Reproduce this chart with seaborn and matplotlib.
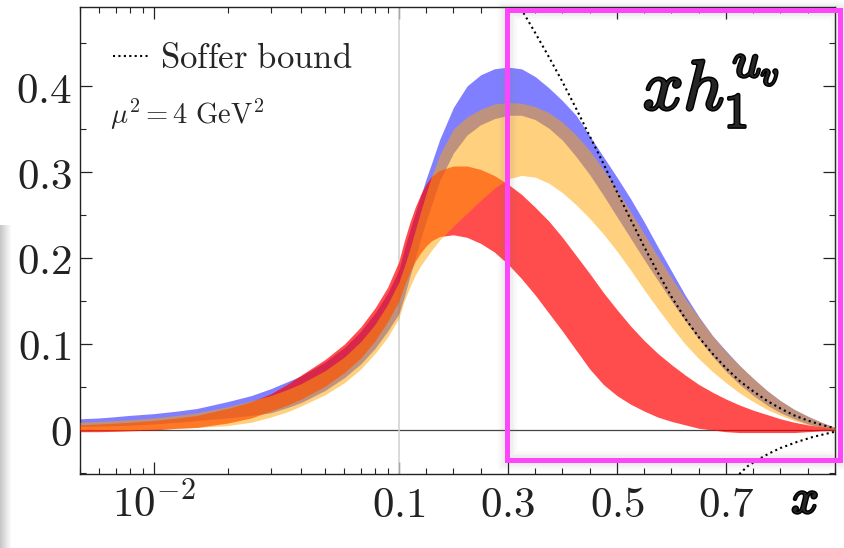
import numpy as np
import pandas as pd
import matplotlib
matplotlib.use("Agg")
import matplotlib.pyplot as plt
import seaborn as sns
from matplotlib import patheffects as pe
from matplotlib.patches import Rectangle
from matplotlib.ticker import FixedLocator

# ---------------------------------------------------------------- data
x_grid = [0.005, 0.006, 0.007, 0.008, 0.01, 0.0125, 0.015, 0.02, 0.025, 0.03,
          0.035, 0.04, 0.05, 0.06, 0.07, 0.08, 0.09,
          0.1, 0.11, 0.12, 0.13, 0.14, 0.15, 0.16, 0.175, 0.2, 0.225, 0.25, 0.275,
          0.3, 0.325, 0.35, 0.375, 0.4, 0.425, 0.45, 0.475, 0.5, 0.525, 0.55, 0.575,
          0.6, 0.625, 0.65, 0.675, 0.7, 0.725, 0.75, 0.775, 0.8, 0.825, 0.85, 0.875, 0.9]

blue_hi = [0.013, 0.014, 0.0155, 0.017, 0.019, 0.022, 0.025, 0.033, 0.040, 0.048,
           0.056, 0.063, 0.079, 0.096, 0.115, 0.136, 0.159,
           0.186, 0.210, 0.232, 0.252, 0.272, 0.292, 0.310, 0.338, 0.375, 0.400, 0.413, 0.420,
           0.422, 0.420, 0.411, 0.398, 0.383, 0.366, 0.342, 0.318, 0.294, 0.269, 0.242, 0.213,
           0.185, 0.157, 0.132, 0.110, 0.092, 0.075, 0.060, 0.046, 0.034, 0.024, 0.016, 0.009, 0.003]
blue_lo = [0.004, 0.0045, 0.005, 0.0055, 0.007, 0.009, 0.011, 0.014, 0.017, 0.020,
           0.026, 0.032, 0.046, 0.061, 0.077, 0.095, 0.115,
           0.135, 0.155, 0.178, 0.200, 0.222, 0.243, 0.262, 0.290, 0.322, 0.343, 0.355, 0.362,
           0.366, 0.366, 0.361, 0.351, 0.337, 0.318, 0.297, 0.273, 0.248, 0.223, 0.198, 0.174,
           0.150, 0.127, 0.106, 0.086, 0.068, 0.053, 0.040, 0.029, 0.020, 0.013, 0.007, 0.003, 0.000]

red_hi = [0.006, 0.007, 0.008, 0.009, 0.011, 0.014, 0.017, 0.025, 0.033, 0.042,
          0.053, 0.064, 0.082, 0.100, 0.120, 0.142, 0.166,
          0.196, 0.220, 0.241, 0.259, 0.274, 0.286, 0.295, 0.302, 0.307, 0.307, 0.303, 0.296,
          0.286, 0.274, 0.259, 0.243, 0.224, 0.203, 0.182, 0.160, 0.140, 0.121, 0.104, 0.089,
          0.076, 0.064, 0.053, 0.044, 0.036, 0.029, 0.023, 0.018, 0.013, 0.009, 0.006, 0.004, 0.002]
red_lo = [-0.002, -0.002, -0.0015, -0.001, 0.000, 0.002, 0.003, 0.008, 0.014, 0.022,
          0.029, 0.036, 0.051, 0.067, 0.084, 0.104, 0.126,
          0.150, 0.168, 0.183, 0.196, 0.206, 0.214, 0.220, 0.225, 0.227, 0.224, 0.217, 0.207,
          0.193, 0.176, 0.157, 0.136, 0.115, 0.093, 0.071, 0.053, 0.040, 0.030, 0.022, 0.015,
          0.010, 0.006, 0.002, 0.000, -0.002, -0.003, -0.003, -0.003, -0.003, -0.003, -0.002,
          -0.001, 0.000]

orange_hi = [0.009, 0.010, 0.011, 0.012, 0.014, 0.017, 0.020, 0.027, 0.034, 0.040,
             0.047, 0.054, 0.069, 0.085, 0.103, 0.123, 0.146,
             0.172, 0.190, 0.210, 0.232, 0.254, 0.275, 0.295, 0.320, 0.350, 0.364, 0.373, 0.379,
             0.381, 0.380, 0.376, 0.369, 0.358, 0.343, 0.325, 0.303, 0.279, 0.254, 0.228, 0.202,
             0.177, 0.153, 0.131, 0.110, 0.091, 0.075, 0.060, 0.046, 0.034, 0.024, 0.016, 0.009,
             0.003]
orange_lo = [0.000, 0.000, 0.000, 0.000, 0.001, 0.002, 0.003, 0.005, 0.009, 0.015,
             0.021, 0.028, 0.041, 0.055, 0.071, 0.089, 0.108,
             0.130, 0.150, 0.166, 0.180, 0.191, 0.200, 0.209, 0.221, 0.237, 0.252, 0.267, 0.281,
             0.292, 0.296, 0.294, 0.287, 0.276, 0.262, 0.246, 0.228, 0.208, 0.186, 0.163, 0.141,
             0.120, 0.100, 0.083, 0.068, 0.055, 0.043, 0.033, 0.024, 0.017, 0.011, 0.006, 0.003,
             0.000]

soffer_x = [0.3, 0.325, 0.35, 0.375, 0.4, 0.425, 0.45, 0.475, 0.5, 0.525, 0.55, 0.575,
            0.6, 0.625, 0.65, 0.675, 0.7, 0.725, 0.75, 0.775, 0.8, 0.825, 0.85, 0.875, 0.9]
soffer_hi = [0.515, 0.489, 0.462, 0.434, 0.405, 0.374, 0.342, 0.310, 0.277, 0.245, 0.213,
             0.183, 0.155, 0.130, 0.108, 0.089, 0.072, 0.057, 0.045, 0.034, 0.025, 0.017,
             0.011, 0.006, 0.002]
soffer_neg_x = [0.71, 0.74, 0.76, 0.78, 0.8, 0.83, 0.86, 0.9]
soffer_neg = [-0.060, -0.042, -0.034, -0.027, -0.021, -0.014, -0.008, -0.002]

x_major = [0.01, 0.1, 0.3, 0.5, 0.7]
x_major_labels = [r"$10^{-2}$", r"$0.1$", r"$0.3$", r"$0.5$", r"$0.7$"]
x_minor = ([k * 1e-3 for k in range(5, 10)] + [k * 1e-2 for k in range(2, 10)]
           + [0.15, 0.2, 0.25, 0.35, 0.4, 0.45, 0.55, 0.6, 0.65, 0.75, 0.8, 0.85, 0.9])
y_major = [0.0, 0.1, 0.2, 0.3, 0.4]
y_major_labels = [r"$0$", r"$0.1$", r"$0.2$", r"$0.3$", r"$0.4$"]
y_minor = [-0.05, 0.05, 0.15, 0.25, 0.35, 0.45]

bands = pd.DataFrame({"x": x_grid,
                      "blue_lo": blue_lo, "blue_hi": blue_hi,
                      "red_lo": red_lo, "red_hi": red_hi,
                      "orange_lo": orange_lo, "orange_hi": orange_hi})
soffer = pd.DataFrame({"x": soffer_x, "bound": soffer_hi})
soffer_low = pd.DataFrame({"x": soffer_neg_x, "bound": soffer_neg})

# ---------------------------------------------------------------- style
sns.set_style("ticks")
plt.rcParams.update({
    "mathtext.fontset": "cm",
    "font.family": ["DejaVu Serif"],
    "axes.linewidth": 1.0,
    "axes.edgecolor": "#222222",
})

# log below x = 0.1, linear above, joined continuously
K_LIN = 545.0 / 245.0


def forward(x):
    x = np.asarray(x, dtype=float)
    with np.errstate(divide="ignore", invalid="ignore"):
        lg = np.log10(np.clip(x, 1e-12, None) / 0.1)
    return np.where(x < 0.1, lg, (x - 0.1) * K_LIN)


def inverse(u):
    u = np.asarray(u, dtype=float)
    return np.where(u < 0, 0.1 * 10.0 ** np.minimum(u, 0), 0.1 + u / K_LIN)


W, H = 845, 548
fig = plt.figure(figsize=(W / 100, H / 100), dpi=100)
ax = fig.add_axes([80 / W, 1 - 474 / H, 755 / W, 467 / H])
ax.set_xscale("function", functions=(forward, inverse))
ax.set_xlim(0.005, 0.9)
ax.set_ylim(-0.0512, 0.4919)

# uncertainty bands
ax.fill_between(bands["x"], bands["blue_lo"], bands["blue_hi"],
                color="#0000ff", alpha=0.5, lw=0, zorder=2)
ax.fill_between(bands["x"], bands["red_lo"], bands["red_hi"],
                color="#ff0000", alpha=0.7, lw=0, zorder=3)
ax.fill_between(bands["x"], bands["orange_lo"], bands["orange_hi"],
                color="#ffa500", alpha=0.5, lw=0, zorder=4)

# reference lines
ax.axhline(0, color="#444444", lw=0.9, zorder=1)
ax.axvline(0.1, color="#d0d0d0", lw=1.1, zorder=1)

# Soffer bound
dots = (0, (1, 1.6))
sns.lineplot(data=soffer, x="x", y="bound", ax=ax, color="black", lw=1.5,
             linestyle=dots, label="Soffer bound", zorder=6)
sns.lineplot(data=soffer_low, x="x", y="bound", ax=ax, color="black", lw=1.5,
             linestyle=dots, legend=False, zorder=6)

leg = ax.legend(loc="center left", bbox_to_anchor=((113 - 80) / 755, 1 - (58 - 7) / 467),
                frameon=False, borderpad=0, borderaxespad=0, handlelength=1.0,
                handletextpad=0.35, prop={"size": 25})
for t in leg.get_texts():
    t.set_text(r"$\mathrm{Soffer\ bound}$")

ax.text((110 - 80) / 755, 1 - (115 - 7) / 467, r"$\mu^2 = 4\ \mathrm{GeV}^2$",
        transform=ax.transAxes, fontsize=20.5, va="center", ha="left")

bold = [pe.withStroke(linewidth=2.2, foreground="black")]
ax.text((643 - 80) / 755, 1 - (110 - 7) / 467, r"$xh_1^{u_v}$",
        transform=ax.transAxes, fontsize=51, va="baseline", ha="left",
        path_effects=bold)
fig.text(805 / W, 1 - 513 / H, r"$x$", fontsize=34, va="baseline", ha="center",
         path_effects=bold)

ax.set_xlabel("")
ax.set_ylabel("")

# ticks
ax.xaxis.set_major_locator(FixedLocator(x_major))
ax.xaxis.set_minor_locator(FixedLocator(x_minor))
ax.set_xticklabels(x_major_labels)
ax.yaxis.set_major_locator(FixedLocator(y_major))
ax.yaxis.set_minor_locator(FixedLocator(y_minor))
ax.set_yticklabels(y_major_labels)
ax.tick_params(which="both", direction="in", top=True, right=True,
               colors="#222222", labelsize=31)
ax.tick_params(which="major", length=8.5, width=0.9)
ax.tick_params(which="minor", length=4.5, width=0.8)
ax.tick_params(axis="x", which="major", pad=31)
ax.tick_params(axis="y", which="major", pad=6)
for lab in ax.get_xticklabels():
    lab.set_verticalalignment("baseline")

# highlight frame with a soft drop shadow
bx0, by0, bx1, by1 = 507.5, 10, 840, 460
rect = [bx0 / W, 1 - by1 / H, (bx1 - bx0) / W, (by1 - by0) / H]
for lw, a in [(14, 0.03), (11, 0.04), (8, 0.05)]:
    fig.add_artist(Rectangle(rect[:2], rect[2], rect[3], transform=fig.transFigure,
                             fill=False, ec="#808080", lw=lw, alpha=a, zorder=9))
fig.add_artist(Rectangle(rect[:2], rect[2], rect[3], transform=fig.transFigure,
                         fill=False, ec="#ff45fb", lw=3.6, zorder=10))

# faint grey edge along the lower left border
edge = fig.add_axes([0, 0, 12 / W, (H - 225) / H])
edge.imshow(np.linspace(0.78, 1.0, 12)[None, :], cmap="gray", vmin=0, vmax=1,
            aspect="auto", extent=(0, 1, 0, 1))
edge.set_axis_off()

fig.savefig("out.png", dpi=100)
